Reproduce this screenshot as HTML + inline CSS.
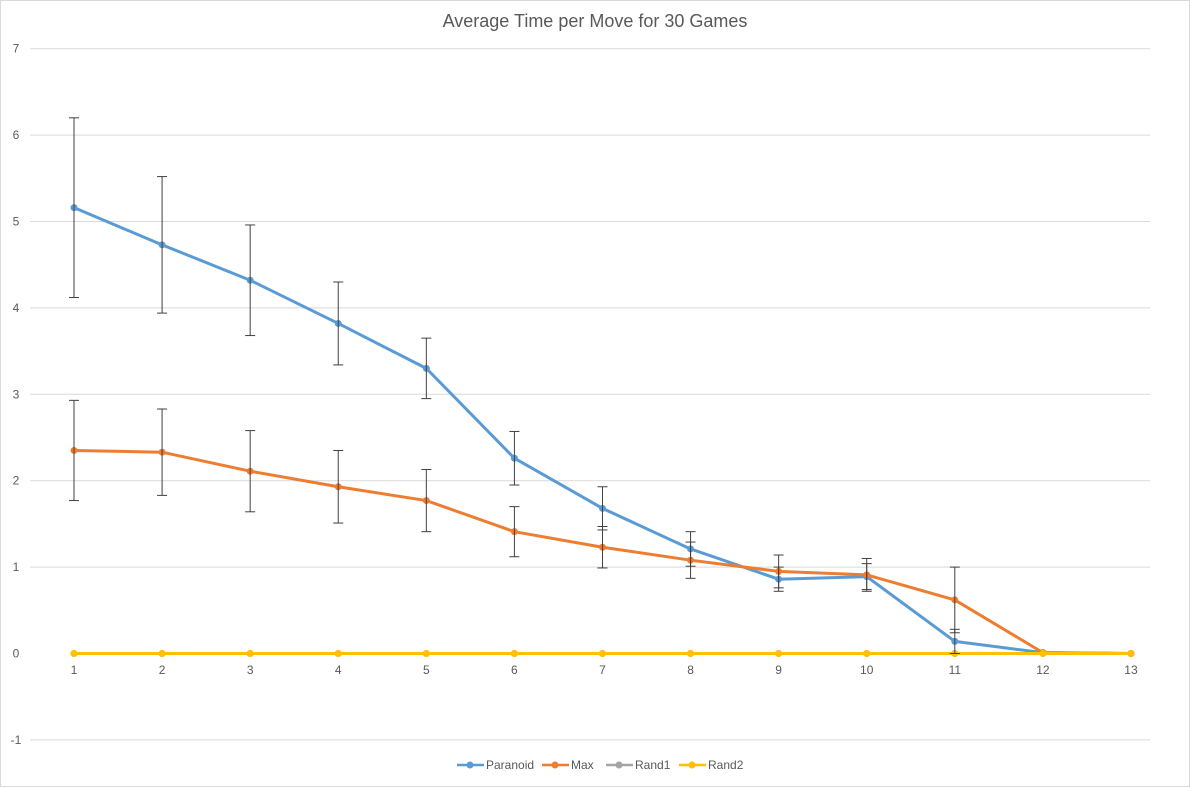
<!DOCTYPE html>
<html><head><meta charset="utf-8"><style>
html,body{margin:0;padding:0;background:#fff;}
svg{display:block;font-family:"Liberation Sans",sans-serif;}
</style></head><body>
<svg id="chart" width="1191" height="788" viewBox="0 0 1191 788" xmlns="http://www.w3.org/2000/svg">
<rect x="0.5" y="0.5" width="1189" height="786" fill="#fff" stroke="#d9d9d9"/>
<text x="595" y="27" text-anchor="middle" font-size="18" fill="#595959">Average Time per Move for 30 Games</text>
<g id="grid"></g><g id="series"></g>
<g font-size="12" fill="#595959">
<g><line x1="457" y1="765" x2="484" y2="765" stroke="#5b9bd5" stroke-width="2.5"/><circle cx="470" cy="765" r="3.5" fill="#5b9bd5"/><text x="486" y="769">Paranoid</text></g>
<g><line x1="542" y1="765" x2="569" y2="765" stroke="#ed7d31" stroke-width="2.5"/><circle cx="555" cy="765" r="3.5" fill="#ed7d31"/><text x="571" y="769">Max</text></g>
<g><line x1="606" y1="765" x2="633" y2="765" stroke="#a5a5a5" stroke-width="2.5"/><circle cx="619" cy="765" r="3.5" fill="#a5a5a5"/><text x="635" y="769">Rand1</text></g>
<g><line x1="679" y1="765" x2="706" y2="765" stroke="#ffc000" stroke-width="2.5"/><circle cx="692" cy="765" r="3.5" fill="#ffc000"/><text x="708" y="769">Rand2</text></g>
</g>
</svg>
<script>
const categories=[1,2,3,4,5,6,7,8,9,10,11,12,13];
const paranoid=[5.16,4.73,4.32,3.82,3.30,2.26,1.68,1.21,0.86,0.89,0.14,0.01,0];
const paranoidErr=[1.04,0.79,0.64,0.48,0.35,0.31,0.25,0.2,0.14,0.15,0.14,0,0];
const maxS=[2.35,2.33,2.11,1.93,1.77,1.41,1.23,1.08,0.95,0.91,0.62,0.01,0];
const maxErr=[0.58,0.5,0.47,0.42,0.36,0.29,0.24,0.21,0.19,0.19,0.38,0,0];
const rand1=[0,0,0,0,0,0,0,0,0,0,0,0,0];
const rand2=[0,0,0,0,0,0,0,0,0,0,0,0,0];
const yTicks=[-1,0,1,2,3,4,5,6,7];
const NS="http://www.w3.org/2000/svg";
const xs=i=>74+i*88.08;
const ys=v=>653.5-v*86.4;
function mk(tag,attrs,parent){const e=document.createElementNS(NS,tag);for(const k in attrs)e.setAttribute(k,attrs[k]);parent.appendChild(e);return e;}
const grid=document.getElementById('grid'),ser=document.getElementById('series');
yTicks.forEach(t=>{
  if(t!==0){const l=mk('line',{x1:30,x2:1150,y1:ys(t),y2:ys(t),stroke:'#d9d9d9','stroke-width':1},grid);
  
  }
  const tx=mk('text',{x:16,y:ys(t)+4,'text-anchor':'middle','font-size':12,fill:'#595959'},grid);tx.textContent=t;
  
  
});
categories.forEach((c,i)=>{
  const tx=mk('text',{x:xs(i),y:674,'text-anchor':'middle','font-size':12,fill:'#595959'},grid);tx.textContent=c;
  
  
});
function errbars(vals,errs,name){
  vals.forEach((v,i)=>{if(!errs[i])return;const x=xs(i),y1=ys(v-errs[i]),y2=ys(v+errs[i]);
    const g=mk('g',{stroke:'#404040','stroke-width':1},ser);
    
    
    mk('line',{x1:x,x2:x,y1:y1,y2:y2},g);mk('line',{x1:x-5,x2:x+5,y1:y1,y2:y1},g);mk('line',{x1:x-5,x2:x+5,y1:y2,y2:y2},g);});
}
function line(vals,color,name){
  const p=mk('polyline',{points:vals.map((v,i)=>xs(i)+','+ys(v)).join(' '),fill:'none',stroke:color,'stroke-width':3,'stroke-linejoin':'round'},ser);
  
  
  vals.forEach((v,i)=>{const c=mk('circle',{cx:xs(i),cy:ys(v),r:3.5,fill:color},ser);
    
    });
}
line(rand1,'#a5a5a5','rand1');
line(paranoid,'#5b9bd5','paranoid');
line(maxS,'#ed7d31','max');
line(rand2,'#ffc000','rand2');
errbars(paranoid,paranoidErr,'paranoid');
errbars(maxS,maxErr,'max');
</script>
</body></html>
